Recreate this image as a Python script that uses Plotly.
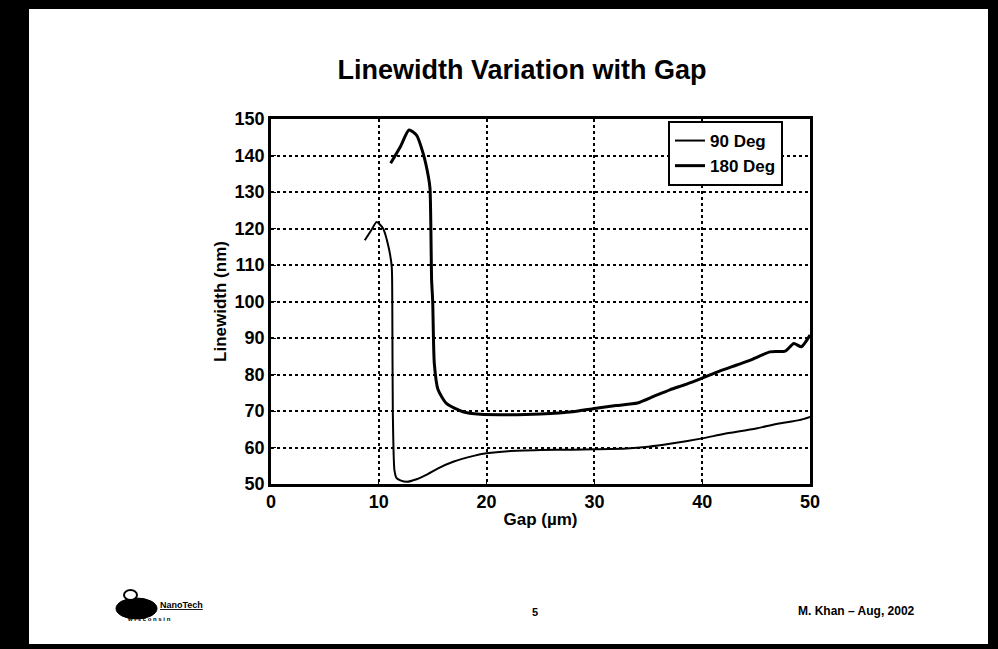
import plotly.graph_objects as go

# ---- data ----
gap_90 = [8.7, 9.3, 9.8, 10.4, 10.9, 11.2, 11.25, 11.3, 11.45, 11.65, 12.0, 12.6, 13.5, 14.4, 15.5, 16.9, 18.8, 20, 22, 25, 28, 30, 33, 35, 37, 40, 42, 45, 47, 49, 50]
lw_90 = [116.8, 119.5, 121.8, 120.0, 115.0, 109.5, 100, 70, 53.8, 51.6, 51.0, 50.6, 51.3, 52.5, 54.3, 56.1, 57.7, 58.4, 59.0, 59.3, 59.4, 59.5, 59.7, 60.2, 61.0, 62.5, 63.7, 65.2, 66.5, 67.5, 68.4]

gap_180 = [11.1, 12.0, 12.8, 13.5, 14.1, 14.6, 14.75, 14.9, 15.0, 15.15, 15.5, 16.3, 17.8, 19.4, 22, 25, 28, 30, 32, 34, 35.5, 37, 38.5, 40, 41.5, 43.2, 44.7, 46.3, 47.7, 48.5, 49.2, 50]
lw_180 = [137.9, 142.4, 147.0, 145.6, 140.7, 134.2, 131.0, 105.9, 100.0, 83.0, 75.8, 72.0, 69.8, 69.1, 69.0, 69.2, 69.8, 70.7, 71.5, 72.2, 74.0, 75.8, 77.3, 79.0, 80.8, 82.6, 84.2, 86.2, 86.4, 88.5, 87.6, 90.8]

x_ticks = [0, 10, 20, 30, 40, 50]
y_ticks = [50, 60, 70, 80, 90, 100, 110, 120, 130, 140, 150]

W, H = 998, 649
L, R, T, B = 271, 810, 119, 484


def px(x):
    return (x - L) / (R - L)


def py(y):
    return 1 - (y - T) / (B - T)


FONT = "Liberation Sans, Arial, sans-serif"

fig = go.Figure()
fig.add_trace(go.Scatter(x=gap_90, y=lw_90, mode="lines", name="90 Deg",
                         line=dict(color="black", width=2, shape="spline", smoothing=0.6)))
fig.add_trace(go.Scatter(x=gap_180, y=lw_180, mode="lines", name="180 Deg",
                         line=dict(color="black", width=3, shape="spline", smoothing=0.6)))

axis_common = dict(
    showgrid=True, gridcolor="black", griddash="dot", gridwidth=1.5,
    showline=True, linecolor="black", linewidth=2.5, mirror=True,
    ticks="inside", ticklen=5, tickcolor="black",
    tickfont=dict(family=FONT, size=18, color="black", weight="bold"),
    zeroline=False,
)

fig.update_layout(
    width=W, height=H,
    margin=dict(l=L, r=W - R, t=T, b=H - B),
    paper_bgcolor="white", plot_bgcolor="white",
    showlegend=True,
    legend=dict(x=px(668), y=py(121), xanchor="left", yanchor="top",
                bgcolor="white", bordercolor="black", borderwidth=2,
                font=dict(family=FONT, size=17, color="black", weight="bold"),
                tracegroupgap=0, itemwidth=30),
    title=dict(text="<b>Linewidth Variation with Gap</b>", x=522 / W, xanchor="center",
               y=1 - 70 / H, yanchor="middle",
               font=dict(family=FONT, size=27, color="black")),
    xaxis=dict(range=[0, 50], tickvals=x_ticks, ticktext=[str(v) for v in x_ticks],
               title=dict(text="<b>Gap (µm)</b>", standoff=2,
                          font=dict(family=FONT, size=17, color="black")),
               **axis_common),
    yaxis=dict(range=[50, 150], tickvals=y_ticks, ticktext=[str(v) for v in y_ticks],
               title=dict(text="Linewidth (nm)", standoff=4,
                          font=dict(family=FONT, size=17, color="black", weight="bold")),
               **axis_common),
)

# slide border (black frame)
shapes = []
for (x0, y0, x1, y1) in [(0, 0, W, 9), (0, 0, 29, H), (988, 0, W, H), (0, 644, W, H)]:
    shapes.append(dict(type="rect", xref="paper", yref="paper",
                       x0=px(x0), x1=px(x1), y0=py(y1), y1=py(y0),
                       fillcolor="black", line=dict(width=0), layer="above"))
# logo approximation
shapes.append(dict(type="circle", xref="paper", yref="paper",
                   x0=px(116), x1=px(157), y0=py(619), y1=py(598),
                   fillcolor="black", line=dict(color="black", width=1)))
shapes.append(dict(type="circle", xref="paper", yref="paper",
                   x0=px(124), x1=px(137), y0=py(600), y1=py(590),
                   fillcolor="white", line=dict(color="black", width=2)))
fig.update_layout(shapes=shapes)

annotations = [
    dict(text="<b>5</b>", x=px(535), y=py(620), xref="paper", yref="paper",
         showarrow=False, font=dict(family=FONT, size=11, color="black")),
    dict(text="<b>M. Khan – Aug, 2002</b>", x=px(917), y=py(620), xref="paper", yref="paper",
         xanchor="right", showarrow=False, font=dict(family=FONT, size=12, color="black")),
    dict(text="<b><u>NanoTech</u></b>", x=px(158), y=py(612), xref="paper", yref="paper",
         xanchor="left", showarrow=False, font=dict(family=FONT, size=9, color="black")),
    dict(text="<b>w i s c o n s i n</b>", x=px(125), y=py(624), xref="paper", yref="paper",
         xanchor="left", showarrow=False, font=dict(family=FONT, size=6, color="black")),
]
fig.update_layout(annotations=annotations)

fig.write_html("out.html", config={"displayModeBar": False},
               post_script="document.body.style.margin='0';document.body.style.overflow='hidden';")
